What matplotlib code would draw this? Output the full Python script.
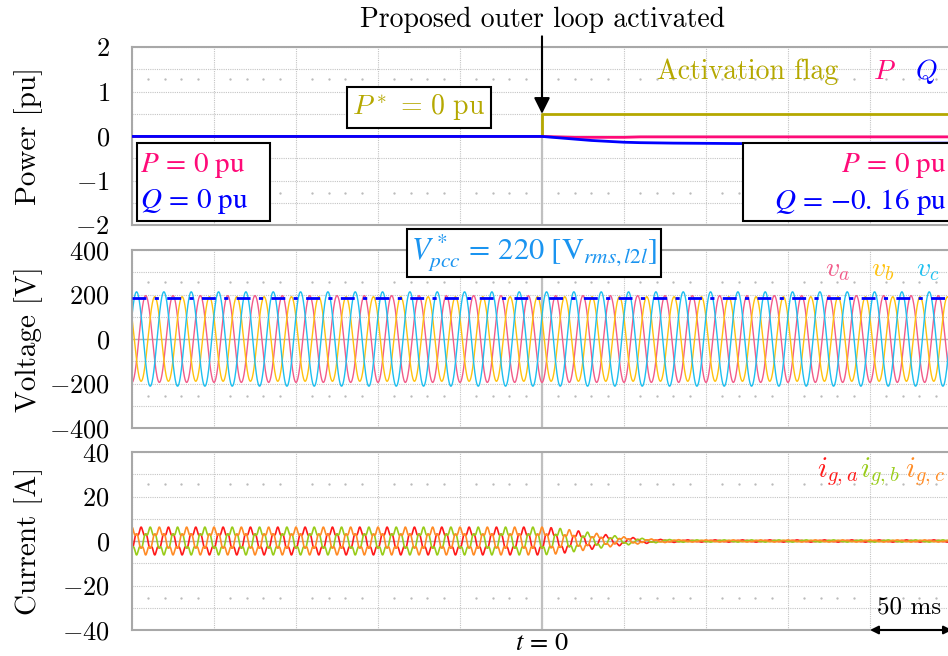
import numpy as np
import matplotlib.pyplot as plt
from matplotlib.patches import Rectangle

plt.rcParams['font.family'] = ['cmr10', 'DejaVu Serif']
plt.rcParams['mathtext.fontset'] = 'cm'
plt.rcParams['axes.formatter.use_mathtext'] = True

# time window in ms, outer loop switched on at t = 0
t_start, t_end = -250, 250
f_grid = 60  # Hz

# power (pu)
pq_t = [-250, 0, 10, 20, 30, 40, 50, 60, 80, 120, 250]
p_pu = [-0.01, -0.01, -0.02, -0.03, -0.03, -0.03, -0.03, -0.02, -0.02, -0.02, -0.02]
q_pu = [-0.01, -0.01, -0.04, -0.07, -0.10, -0.12, -0.14, -0.15, -0.16, -0.17, -0.16]
flag_t = [-250, 0, 0, 250]
flag = [0, 0, 0.5, 0.5]

# PCC voltage peaks per phase (V) and reference peak
v_peak = [195, 190, 212]
v_ref_peak = 186

# grid current amplitude envelope (A)
i_t = [-250, 0, 10, 20, 30, 40, 50, 60, 70, 90, 250]
i_amp = [5.0, 5.0, 4.6, 3.8, 3.0, 2.2, 1.5, 1.0, 0.6, 0.4, 0.4]
i_h5 = 0.25  # relative 5th harmonic seen on the currents

v_colors = ['#f25c8a', '#ffc20e', '#1ec0f0']
i_colors = ['#ff1a1a', '#99cc1a', '#ff8c26']
c_p, c_q, c_flag = '#ff0a78', '#0000ff', '#b5a800'

t = np.linspace(t_start, t_end, 8000)
th = 2 * np.pi * f_grid * (t - t_start) / 1000 - np.pi / 2
shifts = [0, -2 * np.pi / 3, 2 * np.pi / 3]

fig = plt.figure(figsize=(9.48, 6.56), dpi=100)
left, width, h = 132 / 948, 820 / 948, 178 / 656
ax1 = fig.add_axes([left, 1 - 225 / 656, width, h])
ax2 = fig.add_axes([left, 1 - 428 / 656, width, h])
ax3 = fig.add_axes([left, 1 - 630 / 656, width, h])

fs = 20
for ax, lim, step in [(ax1, 2, 1), (ax2, 400, 200), (ax3, 40, 20)]:
    ax.set_xlim(t_start, t_end)
    ax.set_ylim(-lim, lim)
    ax.set_xticks(np.arange(t_start, t_end + 1, 50))
    ax.set_xticklabels([])
    ax.set_yticks(np.arange(-lim, lim + 0.001, step))
    ax.set_yticks(np.arange(-lim, lim + 0.001, lim / 4), minor=True)
    ax.tick_params(which='both', length=0, pad=16, labelsize=fs - 1)
    ax.grid(True, which='both', color='#c4c4c4', ls=(0, (1, 1)), lw=0.8)
    for sp in ax.spines.values():
        sp.set_color('#a8a8a8')
        sp.set_linewidth(1.5)
    ax.axvline(0, color='#c0c0c0', lw=1.6, zorder=1)
    ax.axhline(0, color='#b0b0b0', lw=1.0, zorder=1)
    dots = [x for x in np.arange(t_start, t_end, 10) if x % 50 != 0]
    for yy in (0.18, 0.82):
        ax.plot(dots, [yy] * len(dots), ls='none', marker='.', ms=1.3,
                color='#b8b8b8', transform=ax.get_xaxis_transform())
    ax.set_axisbelow(True)

# --- power
ax1.plot(flag_t, flag, color=c_flag, lw=2, zorder=3)
ax1.plot(pq_t, p_pu, color=c_p, lw=2, zorder=4)
ax1.plot(pq_t, q_pu, color=c_q, lw=2, zorder=5)
ax1.set_ylabel('Power [pu]', fontsize=fs + 1)
ax1.text(0.5, 1.152, 'Proposed outer loop activated', transform=ax1.transAxes,
         ha='center', va='center', fontsize=fs)
ax1.annotate('', xy=(0, 0.5), xytext=(0, 1.06), xycoords='data',
             textcoords=('data', 'axes fraction'),
             arrowprops=dict(arrowstyle='-|>', color='black', lw=1.5,
                             mutation_scale=24, shrinkA=0, shrinkB=0))
ax1.text(0.861, 0.86, 'Activation flag', transform=ax1.transAxes, ha='right',
         va='center', color=c_flag, fontsize=fs)
ax1.text(0.917, 0.86, '$P$', transform=ax1.transAxes, ha='center',
         va='center', color=c_p, fontsize=fs)
ax1.text(0.968, 0.86, '$Q$', transform=ax1.transAxes, ha='center',
         va='center', color=c_q, fontsize=fs)
ax1.text(-75, 0.65, r'$P^*\,=\,0\ \mathrm{pu}$', ha='center', va='center',
         color=c_flag, fontsize=fs,
         bbox=dict(boxstyle='square,pad=0.2', fc='white', ec='black', lw=1.5),
         zorder=6)

# measured value boxes
for x0, x1, ha, qtxt in [(0.006, 0.168, 'left', r'$Q\,=\,0\ \mathrm{pu}$'),
                         (0.745, 0.997, 'right', r'$Q\,=\,{-}0.\,16\ \mathrm{pu}$')]:
    ax1.add_patch(Rectangle((x0, 0.022), x1 - x0, 0.439, transform=ax1.transAxes,
                            fc='white', ec='black', lw=1.5, zorder=7,
                            clip_on=False))
    xt = x0 + 0.004 if ha == 'left' else x1 - 0.004
    ax1.text(xt, 0.335, r'$P\,=\,0\ \mathrm{pu}$', transform=ax1.transAxes,
             ha=ha, va='center', color=c_p, fontsize=fs + 1,
             math_fontfamily='stix', zorder=8)
    ax1.text(xt, 0.13, qtxt, transform=ax1.transAxes, ha=ha, va='center',
             color=c_q, fontsize=fs + 1, math_fontfamily='stix', zorder=8)

# --- voltage
for k in range(3):
    ax2.plot(t, v_peak[k] * np.sin(th + shifts[k]), color=v_colors[k], lw=1.0)
ax2.axhline(v_ref_peak, color='#0000ff', lw=2, ls=(0, (5, 3, 1.5, 3)), zorder=4)
ax2.set_ylabel('Voltage [V]', fontsize=fs + 1)
for x0, lab, c in zip([0.861, 0.916, 0.97], ['$v_a$', '$v_b$', '$v_c$'], v_colors):
    ax2.text(x0, 0.888, lab, transform=ax2.transAxes, ha='center',
             va='center', color=c, fontsize=fs)
ax2.text(0.49, 0.983, r'$V^*_{pcc}\,=\,220\ [\mathrm{V}_{rms,l2l}]$',
         transform=ax2.transAxes, ha='center', va='center', color='#1a94f0',
         fontsize=fs + 2, math_fontfamily='stix', clip_on=False, zorder=10,
         bbox=dict(boxstyle='square,pad=0.12', fc='white', ec='black', lw=1.5))

# --- current
env = np.interp(t, i_t, i_amp)
for k in range(3):
    thi = th + np.pi / 3 + shifts[k]
    ax3.plot(t, env * (np.sin(thi) + i_h5 * np.sin(5 * thi)),
             color=i_colors[k], lw=1.2)
ax3.set_ylabel('Current [A]', fontsize=fs + 1)
for x0, lab, c in zip([0.86, 0.912, 0.967],
                      ['$i_{g,a}$', '$i_{g,b}$', '$i_{g,c}$'], i_colors):
    ax3.text(x0, 0.888, lab, transform=ax3.transAxes, ha='center',
             va='center', color=c, fontsize=fs + 1)
ax3.text(0.948, 0.124, '50 ms', transform=ax3.transAxes, ha='center',
         va='center', fontsize=fs - 2)
ax3.annotate('', xy=(200, 0), xytext=(250, 0), xycoords=('data', 'axes fraction'),
             arrowprops=dict(arrowstyle='<|-|>', color='black', lw=1.5,
                             mutation_scale=12, shrinkA=0, shrinkB=0),
             annotation_clip=False)
ax3.text(0.5, -0.072, r'$t\,=\,0$', transform=ax3.transAxes, ha='center',
         va='center', fontsize=fs - 1, math_fontfamily='stix')

for ax in (ax1, ax2, ax3):
    ax.yaxis.set_label_coords(-0.108, 0.5)

fig.savefig('out.png', dpi=100)
